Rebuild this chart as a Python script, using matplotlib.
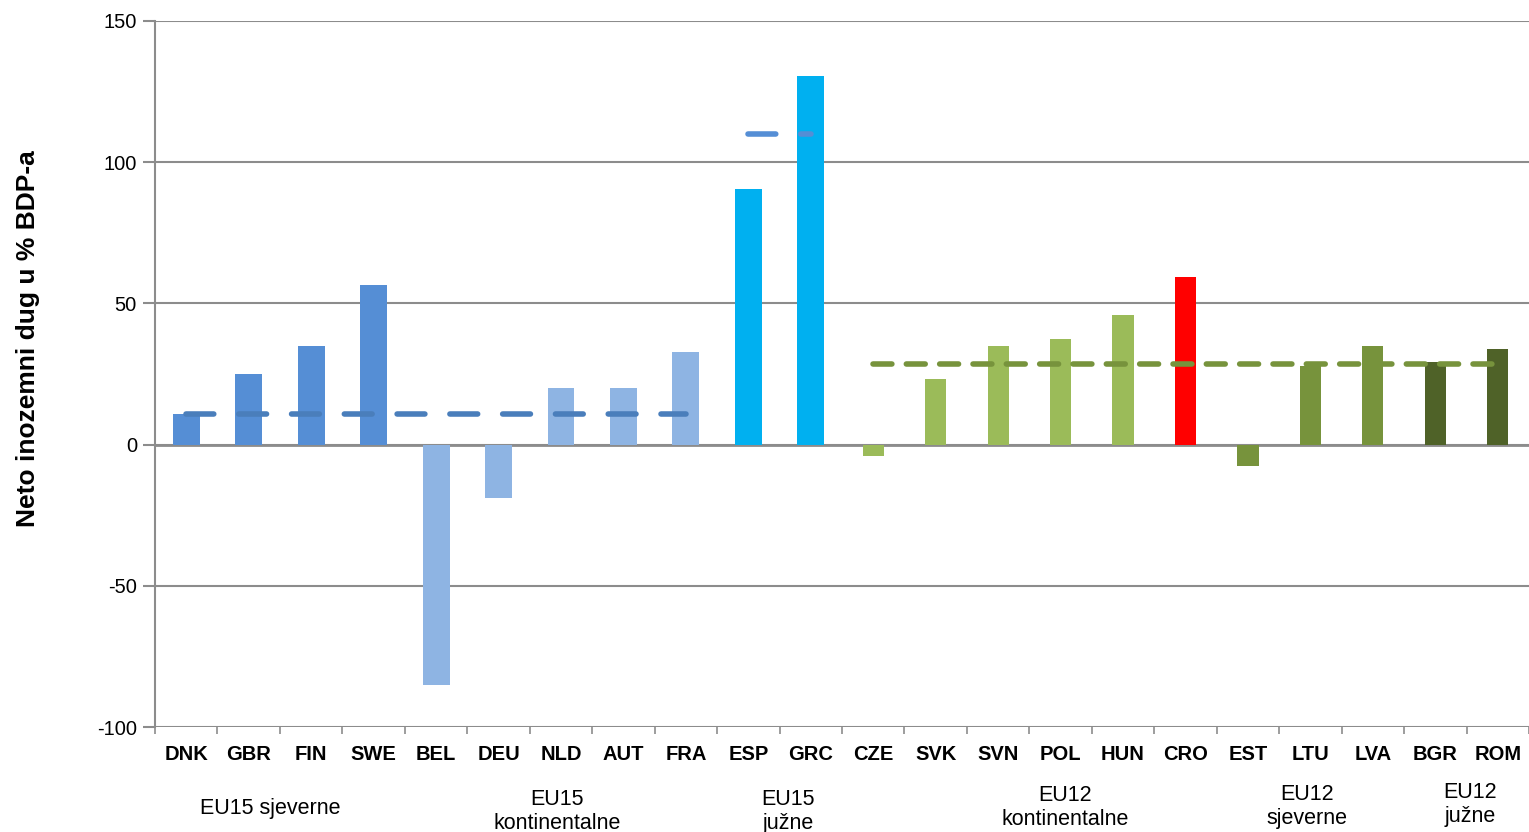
import matplotlib.pyplot as plt
import numpy as np
from matplotlib.transforms import blended_transform_factory

plt.rcParams['font.family'] = ['Liberation Sans', 'DejaVu Sans']
plt.rcParams['axes.unicode_minus'] = False

countries = ['DNK', 'GBR', 'FIN', 'SWE', 'BEL', 'DEU', 'NLD', 'AUT', 'FRA', 'ESP', 'GRC',
             'CZE', 'SVK', 'SVN', 'POL', 'HUN', 'CRO', 'EST', 'LTU', 'LVA', 'BGR', 'ROM']
debt = [10.7, 25.1, 35.0, 56.6, -85.0, -18.8, 20.2, 20.2, 32.9, 90.3, 130.6,
        -3.9, 23.4, 35.0, 37.5, 46.0, 59.5, -7.4, 28.0, 35.0, 29.4, 34.0]
colors = ['#558ED5'] * 4 + ['#8EB4E3'] * 5 + ['#00B0F0'] * 2 + \
         ['#9BBB59'] * 5 + ['#FF0000'] + ['#77933C'] * 3 + ['#4F6228'] * 2
widths = [0.43] * 11 + [0.34] * 11

# group averages (dashed lines)
avg_eu15_nc = 10.9   # DNK..FRA
avg_eu15_s = 110.0   # ESP..GRC
avg_eu12 = 28.7      # CZE..ROM

groups = ['EU15 sjeverne', 'EU15\nkontinentalne', 'EU15\njužne',
          'EU12\nkontinentalne', 'EU12\nsjeverne', 'EU12\njužne']
group_pos = [1.34, 5.94, 9.64, 14.07, 17.95, 20.56]
group_y = [-0.115, -0.119, -0.119, -0.114, -0.112, -0.110]

fig = plt.figure(figsize=(15.29, 8.32), dpi=100)
ax = fig.add_axes([0.1014, 0.126, 0.8986, 0.849])

x = np.arange(len(countries))
ax.bar(x, debt, width=widths, color=colors, zorder=2)

ax.plot(x[0:9], [avg_eu15_nc] * 9, color='#4A7EBB', lw=4, ls=(0, (5, 4.5)),
        dash_capstyle='round', zorder=3)
ax.plot(x[9:11], [avg_eu15_s] * 2, color='#558ED5', lw=4, ls=(0, (5, 4.5)),
        dash_capstyle='round', zorder=3)
ax.plot(x[11:22], [avg_eu12] * 11, color='#77933C', lw=4, ls=(0, (3.4, 2.6)),
        dash_capstyle='round', zorder=3)

ax.set_xlim(-0.5, len(countries) - 0.5)
ax.set_ylim(-100, 150)
ax.set_yticks([-100, -50, 0, 50, 100, 150])
ax.yaxis.grid(True, color='#8C8C8C', lw=1.5, zorder=0)
ax.set_axisbelow(True)

ax.set_xticks(x)
ax.set_xticklabels(countries, fontweight='bold', fontsize=14.5)
ax.set_xticks(np.arange(-0.5, len(countries)), minor=True)
ax.tick_params(axis='x', which='major', length=0, pad=13)
ax.tick_params(axis='x', which='minor', length=5, color='#8C8C8C', width=1.2)
ax.tick_params(axis='y', length=9, color='#8C8C8C', width=1.5, labelsize=14.5, pad=4)

for s in ['top', 'right', 'bottom']:
    ax.spines[s].set_visible(False)
ax.spines['left'].set_color('#8C8C8C')
ax.spines['left'].set_linewidth(1.5)
ax.axhline(0, color='#8C8C8C', lw=2, zorder=1)

fig.text(0.018, 0.5925, 'Neto inozemni dug u % BDP-a', rotation=90, ha='center',
         va='center', fontsize=19, fontweight='bold')

tr = blended_transform_factory(ax.transData, ax.transAxes)
for g, p, yy in zip(groups, group_pos, group_y):
    ax.text(p, yy, g, transform=tr, ha='center', va='center', fontsize=15.5,
            linespacing=1.2)

fig.savefig('out.png', dpi=100)
